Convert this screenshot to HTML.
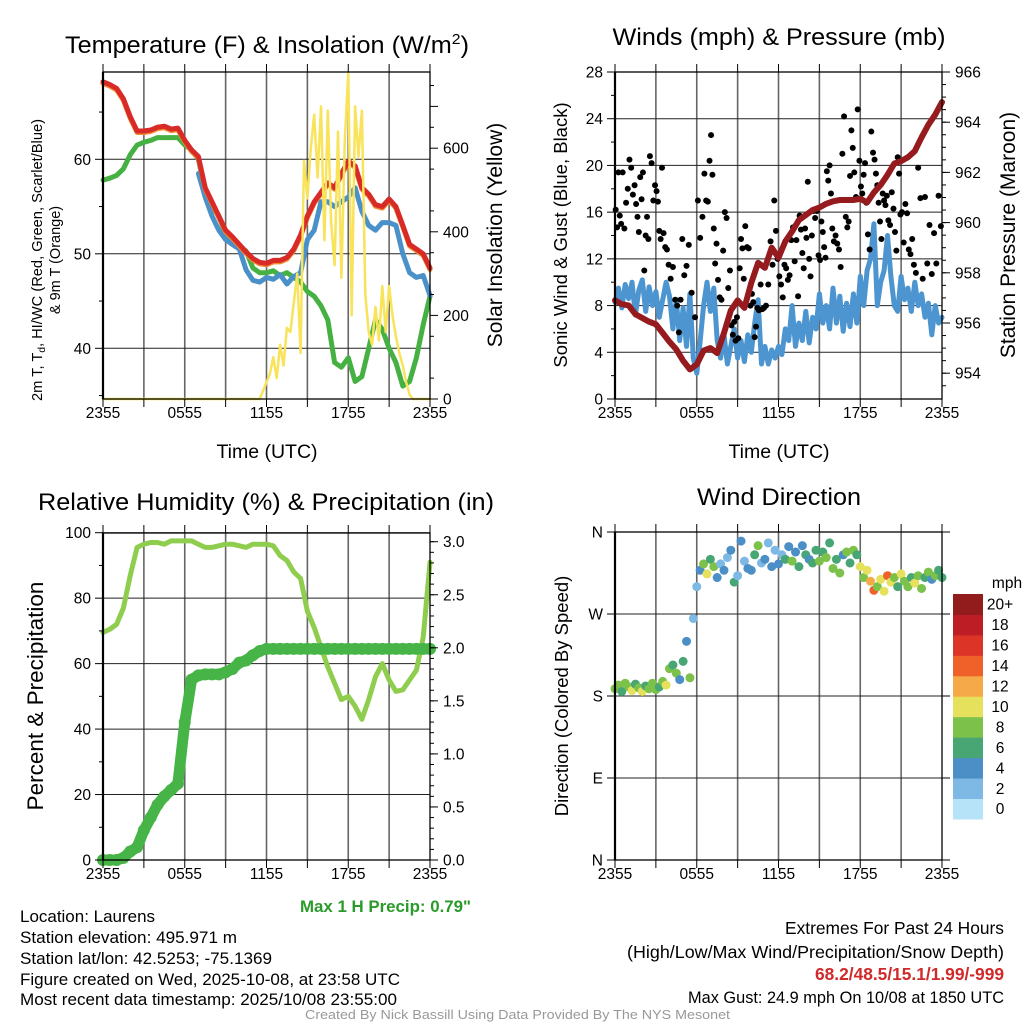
<!DOCTYPE html>
<html><head><meta charset="utf-8"><style>
html,body{margin:0;padding:0;background:#fff;}
svg{display:block;font-family:"Liberation Sans",Arial,sans-serif;}
</style></head><body>
<svg id="fig" width="1024" height="1024" viewBox="0 0 1024 1024" xmlns="http://www.w3.org/2000/svg">
<rect x="0" y="0" width="1024" height="1024" fill="#fff"/>
<text x="267" y="53" font-size="24" text-anchor="middle" fill="#000" textLength="404" lengthAdjust="spacingAndGlyphs">Temperature (F) &amp; Insolation (W/m<tspan dy="-9" font-size="15">2</tspan><tspan dy="9">)</tspan></text>
<text x="779" y="45" font-size="24" text-anchor="middle" fill="#000" textLength="333" lengthAdjust="spacingAndGlyphs">Winds (mph) &amp; Pressure (mb)</text>
<text x="266" y="510" font-size="24" text-anchor="middle" fill="#000" textLength="456" lengthAdjust="spacingAndGlyphs">Relative Humidity (%) &amp; Precipitation (in)</text>
<text x="779" y="505" font-size="24" text-anchor="middle" fill="#000" textLength="164" lengthAdjust="spacingAndGlyphs">Wind Direction</text>
<text x="267" y="458" font-size="19.5" text-anchor="middle">Time (UTC)</text>
<text x="779" y="458" font-size="19.5" text-anchor="middle">Time (UTC)</text>
<text transform="translate(42,260) rotate(-90)" font-size="14.5" text-anchor="middle" textLength="282" lengthAdjust="spacingAndGlyphs">2m T, T<tspan dy="3" font-size="10">d</tspan><tspan dy="-3">, HI/WC (Red, Green, Scarlet/Blue)</tspan></text>
<text transform="translate(60,260) rotate(-90)" font-size="14.5" text-anchor="middle">&amp; 9m T (Orange)</text>
<text transform="translate(502,235) rotate(-90)" font-size="21" text-anchor="middle">Solar Insolation (Yellow)</text>
<text transform="translate(567,235) rotate(-90)" font-size="18.5" text-anchor="middle">Sonic Wind &amp; Gust (Blue, Black)</text>
<text transform="translate(1015,235) rotate(-90)" font-size="21" text-anchor="middle">Station Pressure (Maroon)</text>
<text transform="translate(43,696) rotate(-90)" font-size="22.5" text-anchor="middle">Percent &amp; Precipitation</text>
<text transform="translate(568,696) rotate(-90)" font-size="18.5" text-anchor="middle">Direction (Colored By Speed)</text>
<text x="300" y="912" font-size="16.5" font-weight="bold" fill="#2a9a2a" textLength="171" lengthAdjust="spacingAndGlyphs">Max 1 H Precip: 0.79"</text>
<text x="20" y="922" font-size="17" textLength="135" lengthAdjust="spacingAndGlyphs">Location: Laurens</text>
<text x="20" y="943" font-size="17" textLength="217" lengthAdjust="spacingAndGlyphs">Station elevation: 495.971 m</text>
<text x="20" y="964" font-size="17" textLength="252" lengthAdjust="spacingAndGlyphs">Station lat/lon: 42.5253; -75.1369</text>
<text x="20" y="985" font-size="17" textLength="380" lengthAdjust="spacingAndGlyphs">Figure created on Wed, 2025-10-08, at 23:58 UTC</text>
<text x="20" y="1005" font-size="17" textLength="377" lengthAdjust="spacingAndGlyphs">Most recent data timestamp: 2025/10/08 23:55:00</text>
<text x="1004" y="934" font-size="17.5" text-anchor="end" textLength="219" lengthAdjust="spacingAndGlyphs">Extremes For Past 24 Hours</text>
<text x="1004" y="958" font-size="17.5" text-anchor="end" textLength="377" lengthAdjust="spacingAndGlyphs">(High/Low/Max Wind/Precipitation/Snow Depth)</text>
<text x="1004" y="980" font-size="17.5" font-weight="bold" fill="#d02a2a" text-anchor="end" textLength="189" lengthAdjust="spacingAndGlyphs">68.2/48.5/15.1/1.99/-999</text>
<text x="1004" y="1003" font-size="17" text-anchor="end" textLength="316" lengthAdjust="spacingAndGlyphs">Max Gust: 24.9 mph On 10/08 at 1850 UTC</text>
<text x="305" y="1019" font-size="13" fill="#999" textLength="425" lengthAdjust="spacingAndGlyphs">Created By Nick Bassill Using Data Provided By The NYS Mesonet</text>
</svg>
<script>
// ---- data (half-hourly unless noted; hours from 2355 UTC) ----
const timeLabels = ["2355","0555","1155","1755","2355"];
const tempRed = [68.2,67.9,67.5,66.4,64.5,63.0,63.0,63.1,63.4,63.5,63.2,63.3,62.0,61.0,60.3,57.0,55.5,54.0,52.5,51.8,51.0,50.2,49.5,49.1,49.0,49.3,49.3,49.6,50.5,52.0,54.0,55.5,56.5,57.5,57.0,58.5,59.8,59.3,57.0,56.3,55.2,55.0,55.8,55.0,53.0,51.0,50.5,50.0,48.5];
const tempBlue = [null,null,null,null,null,null,null,null,null,null,null,null,null,null,58.5,56.0,54.0,52.5,51.5,51.0,50.5,48.3,47.2,47.0,47.5,47.3,47.8,46.8,47.6,48.0,51.5,52.5,55.5,55.5,55.0,55.5,56.0,57.0,54.5,53.0,52.5,53.3,53.3,53.0,50.0,48.0,47.5,47.7,45.6];
const dewGreen = [57.8,58.0,58.3,59.0,60.5,61.5,61.8,62.0,62.3,62.3,62.3,62.3,61.5,61.0,60.0,56.5,55.0,54.0,52.0,51.2,50.8,50.3,48.5,48.0,48.0,48.2,47.7,48.0,47.5,47.0,46.0,45.5,44.5,43.0,38.5,38.0,39.0,36.5,37.0,40.0,43.0,42.0,40.0,38.5,36.0,36.5,39.0,42.5,45.5];
// solar: 15-minute values (97)
const solar = [0,0,0,0,0,0,0,0,0,0,0,0,0,0,0,0,0,0,0,0,0,0,0,0,0,0,0,0,0,0,0,0,0,0,0,0,0,0,0,0,0,0,0,0,0,0,0,20,40,60,100,50,130,80,170,160,230,300,110,570,480,600,680,530,700,380,690,420,320,640,290,620,780,200,700,580,690,250,160,130,220,140,270,160,270,200,150,110,80,40,10,0,0,0,0,0,0];
// wind speed: 15-minute values (97)
const windSpeed = [8.3,9.5,7.8,9.8,8.6,10.0,7.2,9.3,10.2,7.5,9.6,8.0,9.2,7.0,8.5,10.0,8.8,6.0,8.5,5.0,
7.8,4.5,9.0,3.5, 2.2,5.0,8.0,10.0, 7.5,9.5,5.0,3.5, 5.5,3.0,4.5,6.0,3.5,5.0,3.2,5.5, 4.0,6.5,8.5,3.0,
4.5,3.0,4.2,3.5,4.5,3.8,6.0,5.0, 8.0,4.5,6.5,5.0,7.5,4.8, 7.0,6.0,9.0,6.5,8.0,6.0,9.5,6.5,8.8,5.8,8.2,6.2,9.0,6.5,
10.5,8.0,11.0,12.0, 15.0,8.0,10.0,11.0, 14.0,10.5,8.0,7.5, 10.5,8.5,9.5,7.5, 10.0,8.0,9.0,7.0, 8.2,5.5,8.0,6.5,7.0];
// gusts grouped into half-hour bins
const gustBins = [[16.2,14.7,19.4,15.7,15.0],[19.4,14.6,16.8,18.0],[20.5,19.8,17.5,18.3],[16.7,15.6,14.3,19.0,17.1],[19.4,11.0,14.0,15.6,13.7],[20.8,20.2,17.0,18.3],[17.8,16.9,14.4,13.7,19.8],[14.2,13.0,12.8,11.5],[10.3,11.3,8.5],[8.0,5.7,8.5,13.7],[10.6,11.4,13.2],[9.1,7.0],[17.0,13.8,15.6],[19.3,17.0,16.9,20.4],[22.6,19.2,14.6,11.6,13.3],[10.2,8.7,8.5,12.7],[16.0,15.5,9.5,11.0],[6.3,5.5,6.6,5.0,7.0],[5.2,11.2,13.7,12.9,10.3],[14.8,13.0,12.9,8.0],[9.0,8.3,5.3,6.2,7.8],[7.6,9.8,7.7,7.8],[8.0,9.8,13.5],[11.5,17.0,14.4,12.0],[10.5,9.8,8.7,11.5],[11.2,10.2,10.6,13.6],[14.7,11.8,13.6,8.8],[15.7,14.5,12.5,11.2,14.6],[13.8,18.6,12.0,10.5,14.0],[16.1,15.5,16.1,12.3],[11.9,15.2,14.3,13.0,12.1],[19.5,18.7,20.0,17.6,14.6],[13.5,14.0,13.3,12.8],[11.3,21.0,24.2,15.6],[14.7,15.2,19.1,23.0,21.5],[19.4,17.3,24.8,20.4],[18.2,17.6,19.2,20.2,16.8],[14.1,12.8,22.9,21.1],[20.5,19.3,18.3,16.8,15.2],[13.7,17.6,17.0,16.6,17.4],[15.3,14.9,17.7,16.3],[14.3,12.7,20.7,19.3,15.8],[16.0,13.4,16.7,15.9],[12.8,12.4,13.7,11.5],[10.8,19.8,17.2],[10.3,17.3,11.6],[14.9,10.7,14.2],[11.6,17.4,14.8]];
const pressure = [956.9,956.75,956.7,956.35,956.2,956.05,955.95,955.6,955.25,954.95,954.5,954.15,954.35,954.9,955.0,954.8,955.6,956.5,956.9,956.6,957.6,958.4,958.2,959.0,958.6,959.25,959.65,960.1,960.3,960.5,960.6,960.75,960.85,960.9,960.9,960.9,960.95,960.8,961.2,961.5,961.9,962.35,962.45,962.6,962.85,963.4,963.9,964.3,964.8];
const relHum = [69.5,70.5,72,77,87,95.5,96.5,97,97,96.5,97.5,97.5,97.5,97.5,96.5,95.5,95.5,96,96.5,96.5,96,95.5,96.5,96.5,96.5,96,93,91.5,88,86,76,71,65,59,54,49,50,47,43,49,56,60,55,51.5,52,55,58,68,91];
const precip = [0,0,0,0.02,0.08,0.12,0.28,0.4,0.52,0.6,0.66,0.72,1.3,1.7,1.74,1.75,1.75,1.75,1.77,1.8,1.86,1.88,1.93,1.97,1.99,1.99,1.99,1.99,1.99,1.99,1.99,1.99,1.99,1.99,1.99,1.99,1.99,1.99,1.99,1.99,1.99,1.99,1.99,1.99,1.99,1.99,1.99,1.99,1.99];
// wind direction (degrees), 15-minute values (97); colored by windSpeed
const windDir = [188,192,185,194,190,186,193,189,185,191,188,194,187,190,196,192,
210,214,205,198, 218,240,200,265, 300,318,325,314, 330,322,310,325, 318,332,340,305, 312,350,328,320,
318,335,345,326, 330,348,322,340, 325,335,330,344, 328,338,322,345, 335,330,326,340, 328,338,332,348,
320,330,315,335, 338,326,340,335, 322,310,318,306, 296,300,308,295, 312,305,310,300, 314,306,300,310,
304,312,298,310, 316,308,312,318,310];
const speedLabels = ["0","2","4","6","8","10","12","14","16","18","20+"];
const speedColors = ["#b6e3f7","#7db9e4","#4b8fc6","#47a673","#7bc14a","#e6e15c","#f6a948","#ef6128","#dd3428","#bd1d24","#921b1c"];
const tempTicks = [40,50,60], solarTicks = [0,200,400,600];
const windTicks = [0,4,8,12,16,20,24,28], presTicks = [954,956,958,960,962,964,966];
const rhTicks = [0,20,40,60,80,100], prTicks = ["0.0","0.5","1.0","1.5","2.0","2.5","3.0"];
const dirTicks = [0,90,180,270,360], dirLabels = ["N","E","S","W","N"];

const NS = "http://www.w3.org/2000/svg";
const svg = document.getElementById("fig");
function mk(tag, attrs, parent){ const e=document.createElementNS(NS,tag); for(const k in attrs) e.setAttribute(k,attrs[k]); (parent||svg).appendChild(e); return e; }

const L = [103,615], W = 327;
const xA = h => L[0] + h*W/24, xB = h => L[1] + h*W/24;
const tempY = t => 159.3 - (t-60)*9.45;
const solarY = s => 399 - s*0.418;
const windY = v => 399 - v*327/28;
const presY = p => 72 + (966-p)*25.1;
const rhY = r => 860 - r*3.273;
const prY = p => 860 - p*106.1;
const dirY = d => 860 - d*328/360;

function panelGrid(x0, top, bottom, hLines, name){
  const g = mk("g", {});
  
  
  for(let i=1;i<8;i++){
    const x = x0 + i*W/8;
    const ln = mk("line",{x1:x,x2:x,y1:top,y2:bottom,stroke:"#666","stroke-width":1.6},g);
    
    
  }
  hLines.forEach(y=>{
    const ln = mk("line",{x1:x0,x2:x0+W,y1:y,y2:y,stroke:"#222","stroke-width":1},g);
    
    
  });
}
function panelFrame(x0, top, bottom, name){
  const r = mk("rect",{x:x0,y:top,width:W,height:bottom-top,fill:"none",stroke:"#000","stroke-width":1.3});
  
  
  const l = mk("line",{x1:x0,x2:x0,y1:top,y2:bottom,stroke:"#000","stroke-width":2.2});
  
  
  for(let i=0;i<=8;i++){
    const x = x0 + i*W/8;
    const t1 = mk("line",{x1:x,x2:x,y1:bottom,y2:bottom+8,stroke:"#000","stroke-width":1});
    
    
    const t2 = mk("line",{x1:x,x2:x,y1:top-8,y2:top,stroke:"#000","stroke-width":1});
    
    
  }
  timeLabels.forEach((s,i)=>{
    const t = mk("text",{x:x0+i*W/4,y:bottom+19,"font-size":15.5,"text-anchor":"middle"});
    t.textContent = s;
    
    
  });
}
function yTicks(x, vals, labels, fy, side, name, len){
  vals.forEach((v,i)=>{
    const y = fy(v);
    const x2 = side<0 ? x-(len||8) : x+(len||8);
    const t = mk("line",{x1:x,x2:x2,y1:y,y2:y,stroke:"#000","stroke-width":1});
    
    
    if(labels){
      const tx = mk("text",{x: side<0 ? x-12 : x+13, y:y+5.5,"font-size":15.5,"text-anchor": side<0?"end":"start"});
      tx.textContent = labels[i];
      
      
    }
  });
}
function minor(x, from, to, step, fy, side, name){
  const vals=[]; for(let v=from; v<=to+1e-9; v+=step) vals.push(+v.toFixed(3));
  yTicks(x, vals, null, fy, side, name+'-minor', 4);
}
function polyline(xs, ys, color, width, name){
  let d=""; let pen=false;
  for(let i=0;i<xs.length;i++){
    if(ys[i]===null){pen=false;continue;}
    d += (pen?"L":"M")+xs[i].toFixed(1)+","+ys[i].toFixed(1); pen=true;
  }
  const p = mk("path",{d:d,fill:"none",stroke:color,"stroke-width":width,"stroke-linejoin":"round","stroke-linecap":"round"});
  
  
  return p;
}
const half = a => a.map((_,i)=>i*0.5), qtr = a => a.map((_,i)=>i*0.25);

// ---------- Panel A ----------
panelGrid(L[0],72,399,tempTicks.map(tempY),"temp");
polyline(half(dewGreen).map(xA), dewGreen.map(tempY), "#45b142", 5, "dewpoint-line");
polyline(half(tempBlue).map(xA), tempBlue.map(v=>v===null?null:tempY(v)), "#4a90c9", 5, "heat-index-line");
polyline(half(tempRed).map(xA), tempRed.map(v=>tempY(v)+1.5), "#f08a32", 5, "nine-meter-temp-line");
polyline(half(tempRed).map(xA), tempRed.map(tempY), "#d82a26", 5, "temperature-line");
polyline(qtr(solar).map(xA), solar.map(solarY), "#f8e35a", 2.5, "solar-line");
panelFrame(L[0],72,399,"temp");
yTicks(L[0], tempTicks, tempTicks.map(String), tempY, -1, "temp-y");
minor(L[0], 35, 65, 10, tempY, -1, "temp-y");
yTicks(L[0]+W, solarTicks, solarTicks.map(String), solarY, 1, "solar-y");
minor(L[0]+W, 50, 750, 100, solarY, 1, "solar-y");
yTicks(L[0]+W, [700], null, solarY, 1, "solar-y-extra");

// ---------- Panel B ----------
panelGrid(L[1],72,399,windTicks.map(windY),"wind");
polyline(qtr(windSpeed).map(xB), windSpeed.map(windY), "#4d95d0", 5, "wind-speed-line");
gustBins.forEach((bin,b)=>{
  bin.forEach((v,j)=>{
    const h = b*0.5 + (j+0.5)*0.5/bin.length;
    const c = mk("circle",{cx:xB(h),cy:windY(v),r:3,fill:"#000"});
    
    
  });
});
polyline(half(pressure).map(xB), pressure.map(presY), "#961b1e", 6, "pressure-line");
panelFrame(L[1],72,399,"wind");
yTicks(L[1], windTicks, windTicks.map(String), windY, -1, "wind-y");
minor(L[1], 2, 26, 4, windY, -1, "wind-y");
yTicks(L[1]+W, presTicks, presTicks.map(String), presY, 1, "pressure-y");
minor(L[1]+W, 953.5, 965.5, 0.5, presY, 1, "pressure-y");

// ---------- Panel C ----------
panelGrid(L[0],533,860,rhTicks.map(rhY),"rh");
polyline(half(relHum).map(xA), relHum.map(rhY), "#8fcd4e", 5, "rh-line");
polyline(half(precip).map(xA), precip.map(prY), "#46b446", 11, "precip-line");
precip.forEach((v,i)=>{
  const c = mk("circle",{cx:xA(i*0.5),cy:prY(v),r:6,fill:"#46b446"});
  
  
});
panelFrame(L[0],533,860,"rh");
yTicks(L[0], rhTicks, rhTicks.map(String), rhY, -1, "rh-y");
minor(L[0], 10, 90, 20, rhY, -1, "rh-y");
yTicks(L[0]+W, prTicks.map(Number), prTicks, prY, 1, "precip-y");
minor(L[0]+W, 0.1, 3.0, 0.1, prY, 1, "precip-y");

// ---------- Panel D ----------
panelGrid(L[1],532,860,dirTicks.map(dirY),"dir");
windDir.forEach((d,k)=>{
  const s = windSpeed[k];
  const bin = Math.max(0, Math.min(10, Math.floor(s/2)));
  const c = mk("circle",{cx:xB(k*0.25),cy:dirY(d),r:4.5,fill:speedColors[bin]});
  
  
});
panelFrame(L[1],532,860,"dir");
yTicks(L[1], dirTicks, dirLabels, dirY, -1, "dir-y");
dirTicks.forEach(d=>{
  const t = mk("line",{x1:L[1]+W,x2:L[1]+W+8,y1:dirY(d),y2:dirY(d),stroke:"#000","stroke-width":1});
  
  
});
const cbTop = 594, cbH = 20.45;
speedColors.forEach((c,i)=>{
  const y = cbTop + (10-i)*cbH;
  const r = mk("rect",{x:953,y:y,width:30,height:cbH+0.5,fill:c});
  
  
  const t = mk("text",{x:1000,y:y+cbH/2+5.5,"font-size":15.5,"text-anchor":"middle"});
  t.textContent = speedLabels[i];
  
  
});
const cbt = mk("text",{x:1007,y:588,"font-size":15.5,"text-anchor":"middle"});
cbt.textContent = "mph";


</script>
</body></html>
